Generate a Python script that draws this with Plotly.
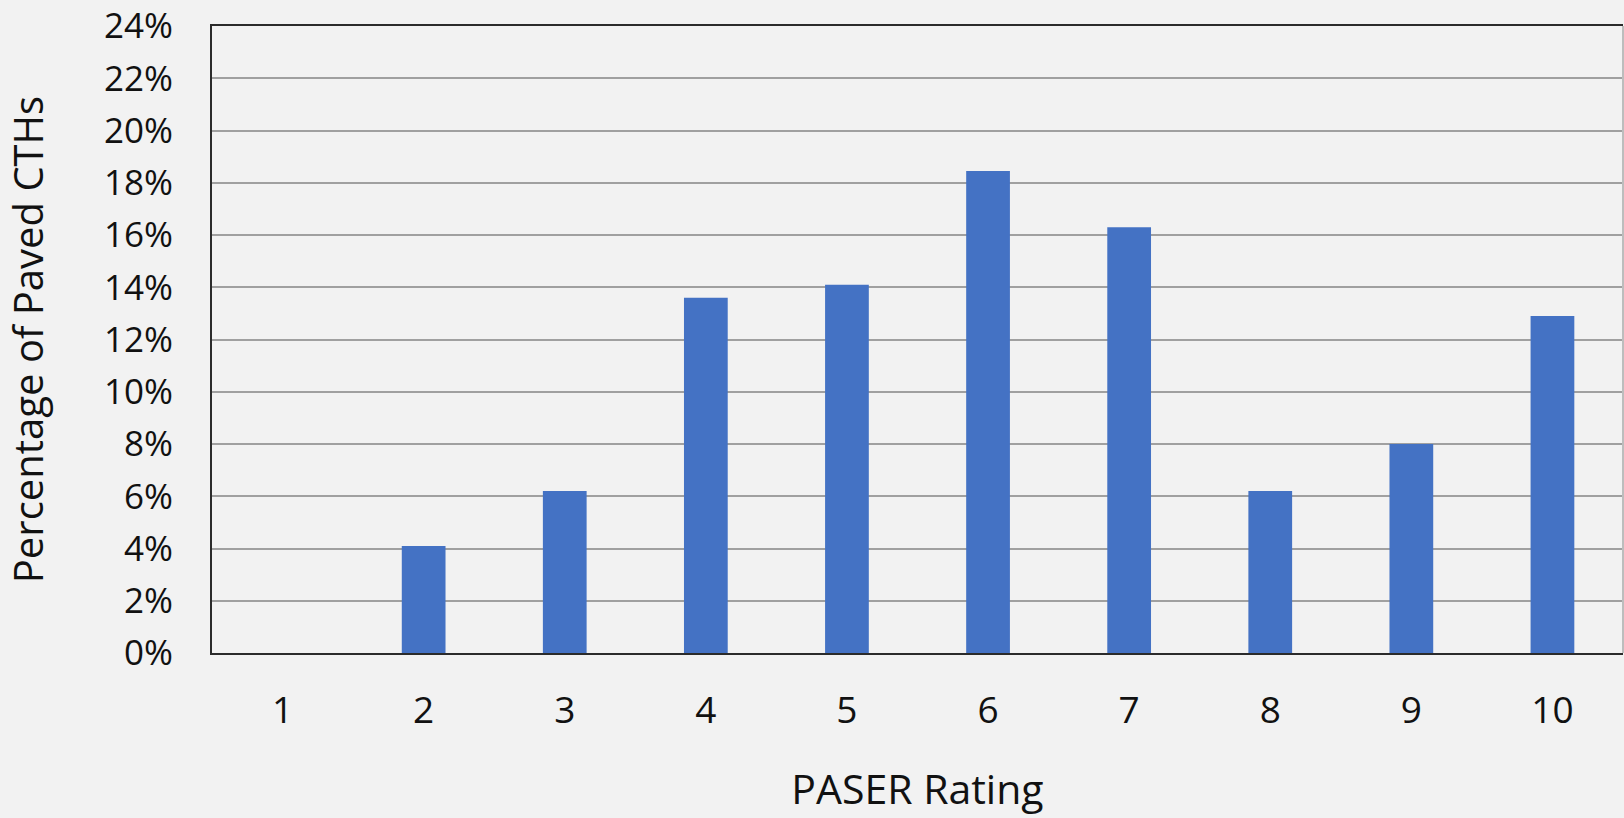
import plotly.graph_objects as go

ratings = ["1", "2", "3", "4", "5", "6", "7", "8", "9", "10"]
percent_paved = [0.0, 4.1, 6.2, 13.6, 14.1, 18.45, 16.3, 6.2, 8.0, 12.9]
y_ticks = list(range(0, 25, 2))
y_tick_labels = [f"{v}%" for v in y_ticks]

FONT = "Open Sans"
fig = go.Figure()
fig.add_trace(go.Bar(
    x=ratings, y=percent_paved,
    marker=dict(color="#4472c4", line=dict(width=0)),
    width=0.31,
))

fig.update_layout(
    width=1624, height=818,
    paper_bgcolor="#f2f2f2", plot_bgcolor="#f2f2f2",
    margin=dict(l=212, r=1, t=26, b=165),
    font=dict(family=FONT, size=37, color="#111111"),
    showlegend=False,
)
fig.update_xaxes(
    type="category",
    showline=True, mirror=True, linecolor="#2b2b2b", linewidth=2,
    showgrid=False, ticks="",
    ticklabelstandoff=24,
    tickfont=dict(family=FONT, size=37),
    title=dict(text="PASER Rating", font=dict(family=FONT, size=41), standoff=42),
)
fig.update_yaxes(
    range=[0, 24.001],
    tickvals=y_ticks, ticktext=y_tick_labels,
    showline=True, linecolor="#2b2b2b", linewidth=2, mirror=False,
    showgrid=True, gridcolor="#a0a0a0", gridwidth=2,
    zeroline=False, ticks="",
    ticklabelstandoff=30,
    ticklabeloverflow="allow",
    automargin="left",
    tickfont=dict(family=FONT, size=35),
    title=dict(text="Percentage of Paved CTHs", font=dict(family=FONT, size=40), standoff=52),
)
fig.add_shape(type="line", xref="paper", yref="paper", x0=1, x1=1, y0=0, y1=1,
              line=dict(color="#bdbdbd", width=2))

fig.write_html("out.html", config={"displayModeBar": False},
               post_script="document.body.style.margin='0';")
